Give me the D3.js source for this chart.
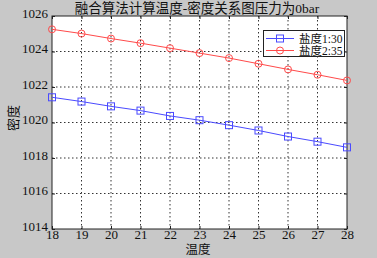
<!DOCTYPE html>
<html><head><meta charset="utf-8">
<script src="https://cdn.jsdelivr.net/npm/d3@7"></script>
<style>
body{margin:0;background:#c8c8c8;}
svg{display:block;}
text{font-family:"Liberation Serif","Noto Sans CJK SC",serif;fill:#111;}
</style></head><body>
<svg id="c" width="377" height="258"></svg>
<script>
const temps = [18,19,20,21,22,23,24,25,26,27,28];
const salt30 = [1021.42,1021.18,1020.91,1020.67,1020.37,1020.13,1019.85,1019.55,1019.21,1018.92,1018.6];
const salt35 = [1025.25,1025.01,1024.73,1024.47,1024.19,1023.91,1023.63,1023.31,1022.99,1022.69,1022.37];
const yTicks = [1014,1016,1018,1020,1022,1024,1026];
const xTicks = [18,19,20,21,22,23,24,25,26,27,28];
const seriesNames = ["盐度1:30","盐度2:35"];
const title = "融合算法计算温度-密度关系图压力为0bar";
const xLabel = "温度", yLabel = "密度";

const svg = d3.select("#c");
const L=52,R=347,T=16,B=229;
const x = d3.scaleLinear().domain([18,28]).range([L,R]);
const y = d3.scaleLinear().domain([1014,1026]).range([B,T]);

svg.append("rect").attr("x",L).attr("y",T).attr("width",R-L).attr("height",B-T).attr("fill","#fff");

// grid
const g = svg.append("g");
g.selectAll(".gx").data(xTicks.slice(1,-1)).enter().append("line")
 .attr("x1",d=>x(d)).attr("x2",d=>x(d)).attr("y1",T).attr("y2",B)
 .attr("stroke","#333").attr("stroke-width",1).attr("stroke-dasharray","1.5,2.5");
g.selectAll(".gy").data(yTicks.slice(1,-1)).enter().append("line")
 .attr("y1",d=>y(d)).attr("y2",d=>y(d)).attr("x1",L).attr("x2",R)
 .attr("stroke","#333").attr("stroke-width",1).attr("stroke-dasharray","1.5,2.5");

// axes
const xa = svg.append("g").attr("transform",`translate(0,${B})`)
 .call(d3.axisBottom(x).tickValues(xTicks).tickFormat(d3.format("d")).tickSizeInner(-3).tickSizeOuter(0).tickPadding(3));
const ya = svg.append("g").attr("transform",`translate(${L},0)`)
 .call(d3.axisLeft(y).tickValues(yTicks).tickFormat(d3.format("d")).tickSizeInner(-3).tickSizeOuter(0).tickPadding(4));
[xa,ya].forEach(a=>{a.select(".domain").remove();a.selectAll("line").attr("stroke","#222");
 a.selectAll("text").attr("font-size",13).attr("fill","#111").style("font-family","Liberation Serif");});
xa.selectAll("text").attr("dy","0.55em");
ya.selectAll("text").attr("dy","0.1em");
// top/right ticks
svg.append("g").attr("transform",`translate(0,${T})`).call(d3.axisTop(x).tickValues(xTicks).tickFormat("").tickSizeInner(-3).tickSizeOuter(0))
 .call(a=>{a.select(".domain").remove();a.selectAll("line").attr("stroke","#222");});
svg.append("g").attr("transform",`translate(${R},0)`).call(d3.axisRight(y).tickValues(yTicks).tickFormat("").tickSizeInner(-3).tickSizeOuter(0))
 .call(a=>{a.select(".domain").remove();a.selectAll("line").attr("stroke","#222");});

svg.append("rect").attr("x",L).attr("y",T).attr("width",R-L).attr("height",B-T).attr("fill","none").attr("stroke","#222").attr("stroke-width",1);

const line = d3.line().x((d,i)=>x(temps[i])).y(d=>y(d));
const blue="#4a4aff", red="#ff4a4a";
svg.append("path").datum(salt30).attr("d",line).attr("fill","none").attr("stroke",blue).attr("stroke-width",1);
svg.append("path").datum(salt35).attr("d",line).attr("fill","none").attr("stroke",red).attr("stroke-width",1);
svg.selectAll(".sq").data(salt30).enter().append("rect")
 .attr("x",(d,i)=>x(temps[i])-3.5).attr("y",d=>y(d)-3.5).attr("width",7).attr("height",7)
 .attr("fill","none").attr("stroke",blue).attr("stroke-width",1);
svg.selectAll(".ci").data(salt35).enter().append("circle")
 .attr("cx",(d,i)=>x(temps[i])).attr("cy",d=>y(d)).attr("r",3.5)
 .attr("fill","none").attr("stroke",red).attr("stroke-width",1);

// legend
const lg = svg.append("g");
lg.append("rect").attr("x",263.5).attr("y",30.5).attr("width",81).attr("height",26).attr("fill","#fff").attr("stroke","#222");
[[blue,"sq"],[red,"ci"]].forEach(([c,m],i)=>{
 const yy=38.5+i*12;
 lg.append("line").attr("x1",266).attr("x2",294).attr("y1",yy).attr("y2",yy).attr("stroke",c);
 if(m==="sq") lg.append("rect").attr("x",276.5).attr("y",yy-3.5).attr("width",7).attr("height",7).attr("fill","none").attr("stroke",c);
 else lg.append("circle").attr("cx",280).attr("cy",yy).attr("r",3.5).attr("fill","none").attr("stroke",c);
 lg.append("text").attr("x",299).attr("y",yy+4).attr("font-size",11.5).text(seriesNames[i]);
});

svg.append("text").attr("x",197).attr("y",13).attr("text-anchor","middle").attr("font-size",13.5).text(title);
svg.append("text").attr("x",198).attr("y",254).attr("text-anchor","middle").attr("font-size",12.5).text(xLabel);
svg.append("text").attr("transform","translate(18,118) rotate(-90)").attr("text-anchor","middle").attr("font-size",13).text(yLabel);
</script></body></html>
